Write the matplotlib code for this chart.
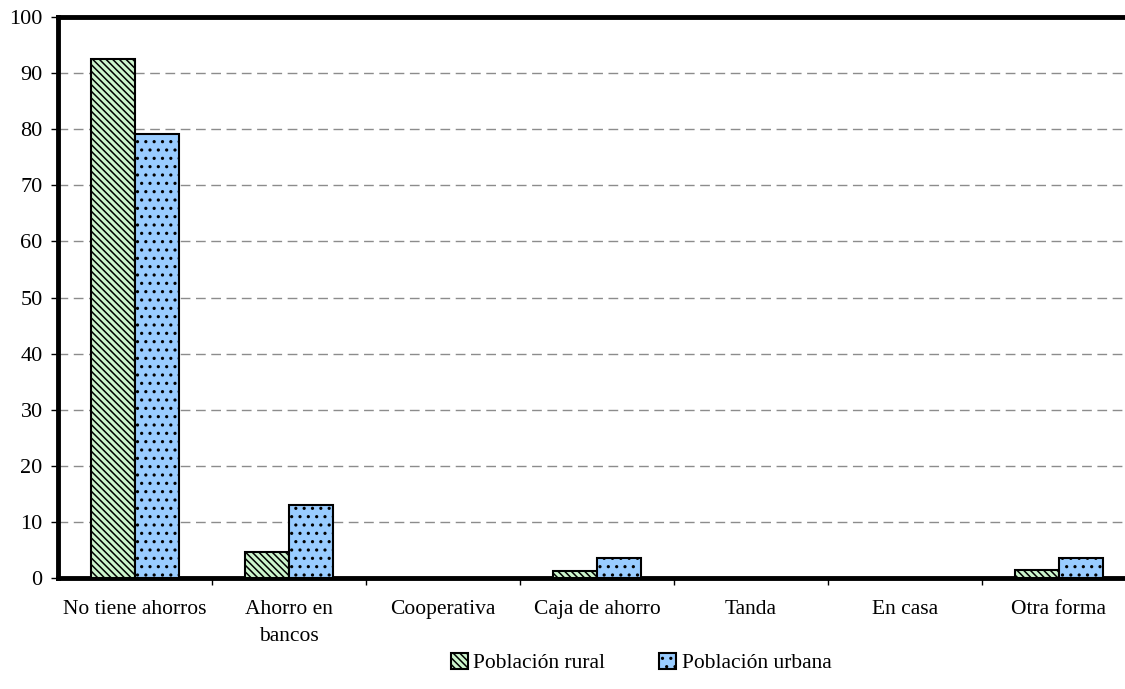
import numpy as np
import matplotlib.pyplot as plt
import matplotlib as mpl

plt.rcParams['font.family'] = ['Liberation Serif', 'DejaVu Serif']
mpl.rcParams['hatch.linewidth'] = 1.1

categories = ['No tiene ahorros', 'Ahorro en\nbancos', 'Cooperativa', 'Caja de ahorro',
              'Tanda', 'En casa', 'Otra forma']
rural = [92.5, 4.7, 0.0, 1.2, 0.0, 0.0, 1.5]
urbana = [79.2, 13.0, 0.0, 3.5, 0.0, 0.0, 3.5]
series_names = ['Población rural', 'Población urbana']

fig = plt.figure(figsize=(11.25, 6.89), dpi=100)
ax = fig.add_axes([58 / 1125, 1 - 578 / 689, (1136 - 58) / 1125, (578 - 17) / 689])

x = np.arange(len(categories))
w = 0.286
ax.bar(x - w / 2, rural, w, color='#ccf5cc', edgecolor='black', linewidth=1.5,
       hatch='\\\\\\\\\\', label=series_names[0], zorder=3)
ax.bar(x + w / 2, urbana, w, color='#99ccff', edgecolor='black', linewidth=1.5,
       hatch='..', label=series_names[1], zorder=3)

ax.set_xlim(-0.5, len(categories) - 0.5)
ax.set_ylim(0, 100)
ax.set_yticks(np.arange(0, 101, 10))
ax.yaxis.grid(True, linestyle=(0, (7, 4)), color='#8c8c8c', linewidth=1, zorder=0)
ax.set_xticks(x)
ax.set_xticklabels(categories, fontsize=15.5, linespacing=1.55)
ax.set_xticks(np.arange(len(categories)) + 0.5, minor=True)
ax.tick_params(axis='x', which='major', length=0, pad=16)
ax.tick_params(axis='x', which='minor', length=5, width=1)
ax.tick_params(axis='y', labelsize=16, length=5, width=1, pad=6)

for s in ['left', 'top', 'bottom', 'right']:
    ax.spines[s].set_linewidth(3.5)

ax.legend(loc='center', bbox_to_anchor=(641 / 1125, 1 - 663 / 689), bbox_transform=fig.transFigure,
          ncol=2, frameon=False, fontsize=15.5, handlelength=0.8, handleheight=0.8,
          handletextpad=0.25, columnspacing=2.5, borderpad=0)

fig.savefig('out.png', dpi=100)
